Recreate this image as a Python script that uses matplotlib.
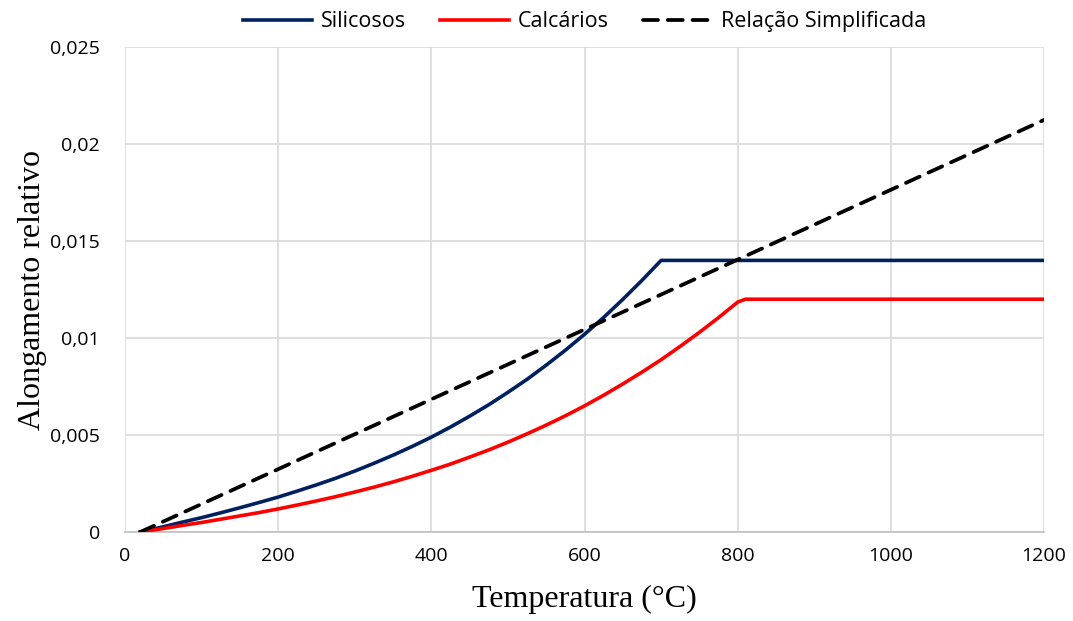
import matplotlib
matplotlib.use("Agg")
import matplotlib.pyplot as plt
from matplotlib.ticker import FuncFormatter

# Temperatures (°C) and relative elongation
temp_sil = [20, 50, 75, 100, 125, 150, 175, 200, 225, 250, 275, 300, 325, 350, 375, 400,
            425, 450, 475, 500, 525, 550, 575, 600, 625, 650, 675, 700, 1200]
elong_sil = [0.0, 0.00027, 0.00051, 0.00074, 0.00099, 0.00125, 0.00152, 0.0018, 0.00211,
             0.00243, 0.00277, 0.00314, 0.00354, 0.00396, 0.00441, 0.00489, 0.00541,
             0.00597, 0.00656, 0.0072, 0.00787, 0.0086, 0.00937, 0.01019, 0.01106,
             0.01199, 0.01297, 0.014, 0.014]

temp_cal = [20, 50, 75, 100, 125, 150, 175, 200, 225, 250, 275, 300, 325, 350, 375, 400,
            425, 450, 475, 500, 525, 550, 575, 600, 625, 650, 675, 700, 725, 750, 775,
            800, 810, 1200]
elong_cal = [0.0, 0.00018, 0.00034, 0.00049, 0.00066, 0.00083, 0.001, 0.00119, 0.00139,
             0.0016, 0.00182, 0.00206, 0.00231, 0.00258, 0.00287, 0.00318, 0.0035,
             0.00386, 0.00423, 0.00463, 0.00506, 0.00551, 0.00599, 0.0065, 0.00705,
             0.00763, 0.00824, 0.00888, 0.00957, 0.01029, 0.01105, 0.01185, 0.012, 0.012]

temp_simp = [20, 1200]
elong_simp = [0.0, 0.02124]

x_ticks = [0, 200, 400, 600, 800, 1000, 1200]
y_ticks = [0, 0.005, 0.01, 0.015, 0.02, 0.025]

tick_font = "Open Sans"
label_font = "Liberation Serif"

fig = plt.figure(figsize=(10.73, 6.21), dpi=100)
ax = fig.add_axes([125 / 1073, 1 - 532 / 621, 919 / 1073, 485 / 621])

ax.plot(temp_sil, elong_sil, color="#002060", lw=2.6, label="Silicosos", zorder=3)
ax.plot(temp_cal, elong_cal, color="#ff0000", lw=2.6, label="Calcários", zorder=3)
ax.plot(temp_simp, elong_simp, color="black", lw=2.7, ls=(0, (4, 2.6)),
        dash_capstyle="round", label="Relação Simplificada", zorder=4)

ax.set_xlim(0, 1200)
ax.set_ylim(0, 0.025)
ax.set_xticks(x_ticks)
ax.set_yticks(y_ticks)


def fmt_y(v, pos):
    if v == 0:
        return "0"
    return ("%g" % round(v, 4)).replace(".", ",")


ax.yaxis.set_major_formatter(FuncFormatter(fmt_y))
ax.grid(True, color="#d9d9d9", lw=1.2)
ax.set_axisbelow(True)
for side in ["top", "right", "left"]:
    ax.spines[side].set_visible(False)
ax.spines["bottom"].set_color("#bfbfbf")
ax.spines["bottom"].set_linewidth(1.2)
ax.tick_params(axis="x", length=0, pad=11, labelsize=14)
ax.tick_params(axis="y", length=0, pad=18, labelsize=14)
for lab in ax.get_xticklabels() + ax.get_yticklabels():
    lab.set_fontfamily(tick_font)

ax.set_xlabel("Temperatura (°C)", fontsize=23, fontfamily=label_font, labelpad=14)
ax.set_ylabel("Alongamento relativo", fontsize=23, fontfamily=label_font, labelpad=2)

ax.legend(loc="lower center", bbox_to_anchor=(0.5, 0.99), ncol=3, frameon=False,
          prop={"family": tick_font, "size": 15.5}, handlelength=3.2, columnspacing=1.6,
          handletextpad=0.4)

fig.savefig("out.png", dpi=100)
